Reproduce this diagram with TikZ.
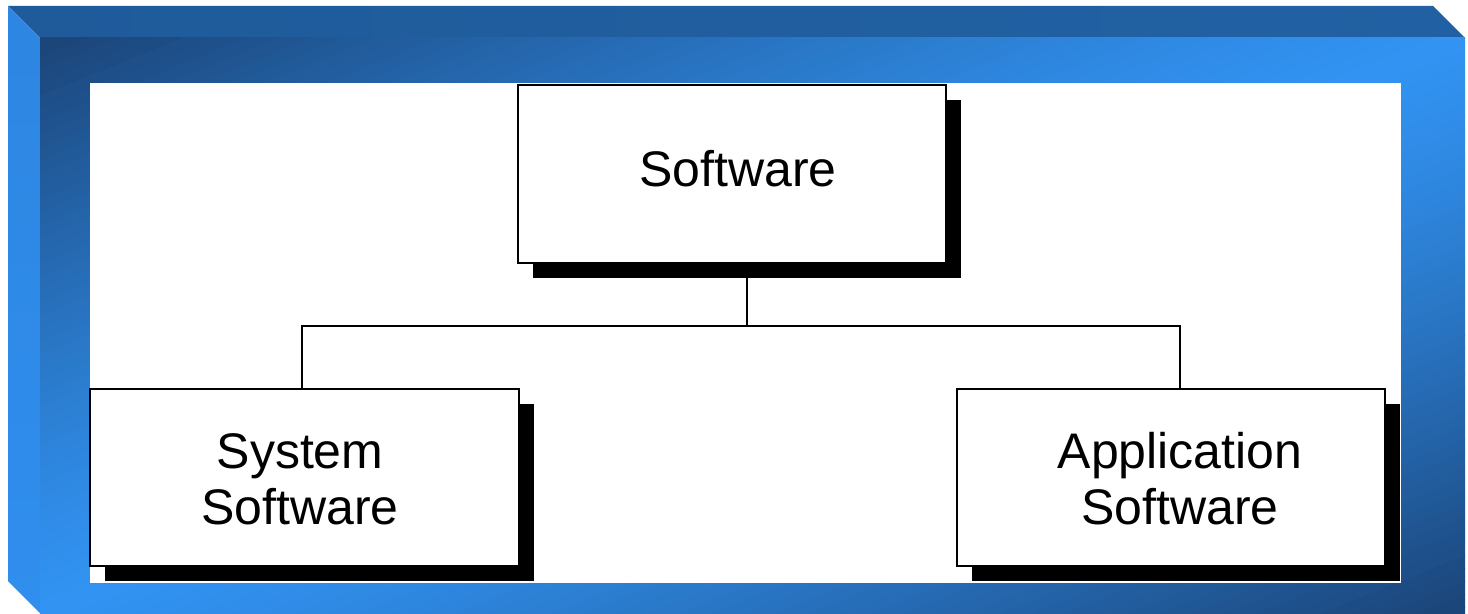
\documentclass[tikz,border=0pt]{standalone}
\usepackage{fontspec}
\setmainfont{Liberation Sans}
\usetikzlibrary{shadows}
\definecolor{framedark}{RGB}{27,70,122}
\definecolor{framebright}{RGB}{50,147,242}
\definecolor{bevtop}{RGB}{31,91,155}
\definecolor{bevtopr}{RGB}{33,97,163}
\definecolor{bevleft}{RGB}{45,134,225}
\definecolor{bevleftb}{RGB}{48,142,238}
\begin{document}
\begin{tikzpicture}[x=1bp,y=-1bp,
  chartbox/.style={draw=black, line width=2bp, fill=white, minimum width=428bp, minimum height=177bp, inner sep=0pt, outer sep=0pt,
    general shadow={fill=black, shadow xshift=15bp, shadow yshift=-15bp}},
  boxlabel/.style={font=\fontsize{50bp}{56bp}\selectfont, align=center, inner sep=0pt},
  conn/.style={draw=black, line width=2bp}]
\useasboundingbox (0,0) rectangle (1468,614);
% frame bevels
\shade[left color=bevtop, right color=bevtopr] (8,6) -- (1433,6) -- (1465,38) -- (40,38) -- cycle;
\shade[top color=bevleft, bottom color=bevleftb] (8,6) -- (40,38) -- (40,613) -- (8,581) -- cycle;
% front face: diagonal gradient dark -> bright -> dark, built from stripes
\begin{scope}
\clip (40,38) rectangle (1465,613);
\begin{scope}[shift={(752.5,325.5)}, rotate=22]
\foreach \i in {0,...,89}{
  \pgfmathsetmacro{\tlo}{-540+12*\i}
  \pgfmathsetmacro{\thi}{\tlo+12.6}
  \pgfmathsetmacro{\mixp}{min(100,100*(abs(\tlo+6)/520)^1.3)}
  \fill[framedark!\mixp!framebright] (-1000,\tlo) rectangle (1000,\thi);
}
\end{scope}
\end{scope}
% white panel
\fill[white] (90,83) rectangle (1401,583);
% boxes
\node[chartbox] (top) at (732,174) {};
\node[chartbox] (sys) at (304.5,477) {};
\node[chartbox] (app) at (1170.5,477) {};
\node[boxlabel, anchor=base] (toptext) at (738,187) {Software};
\node[boxlabel] (systext) at (300,479) {System\\Software};
\node[boxlabel] (apptext) at (1180,479) {Application\\Software};
% connectors
\coordinate (topout) at ([xshift=15bp]top.south);
\coordinate (bus) at ([yshift=-63bp]topout);
\coordinate (sysin) at ([xshift=-2.5bp]sys.north);
\coordinate (appin) at ([xshift=9.5bp]app.north);
\draw[conn] (topout) -- (bus);
\draw[conn] (sysin) |- (bus) -| (appin);
\end{tikzpicture}
\end{document}
